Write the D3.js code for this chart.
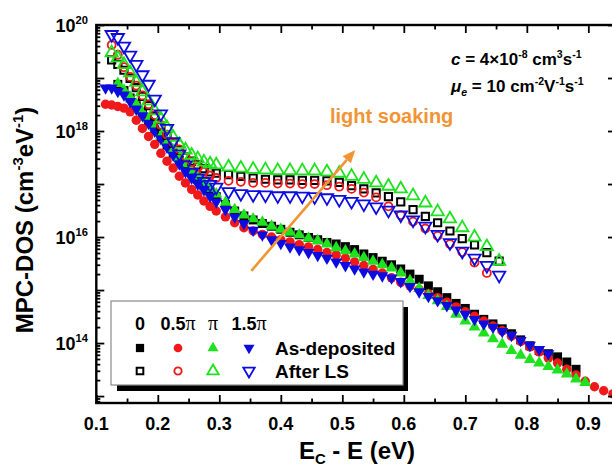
<!DOCTYPE html>
<html>
<head>
<meta charset="utf-8">
<script src="https://d3js.org/d3.v7.min.js"></script>
<style>
html,body{margin:0;padding:0;background:#fff;}
svg{display:block;font-family:Arial,"Liberation Sans",Helvetica,sans-serif;font-weight:bold;}
</style>
</head>
<body>
<svg id="chart" width="612" height="470"></svg>
<script>
// ---------------- data (E_C - E in eV, MPC-DOS in cm^-3 eV^-1) ----------------
const energyAsDep = [0.115,0.125,0.135,0.145,0.155,0.165,0.175,0.185,0.195,0.205,0.215,0.225,0.235,0.245,0.255,0.265,0.275,0.285,0.295,
  0.31,0.325,0.34,0.355,0.37,0.385,0.40,0.415,0.43,0.445,0.46,0.475,0.49,0.505,0.52,0.535,0.55,0.565,0.58,0.595,0.61,0.625,0.64,0.655,0.67,0.685,
  0.70,0.715,0.73,0.745,0.76,0.775,0.79,0.805,0.82,0.835,0.85,0.865,0.88,0.895,0.91,0.925,0.94];
const energyAfterLS = [0.125,0.135,0.145,0.155,0.165,0.175,0.185,0.195,0.205,0.215,0.225,0.235,0.245,0.255,0.265,0.275,0.285,0.295,
  0.315,0.335,0.355,0.375,0.395,0.415,0.435,0.455,0.475,0.495,0.515,0.535,0.555,0.575,0.595,0.615,0.635,0.655,0.675,0.695,0.715,0.735,0.755];

// As-deposited, phase 0 (filled black squares)
const dosAsDep0 = [null,null,7.6e18,5.8e18,4.2e18,3.0e18,2.1e18,1.5e18,1.05e18,7.6e17,5.4e17,3.8e17,2.8e17,2.1e17,1.6e17,1.2e17,9.3e16,7.2e16,5.8e16,
  4.1e16,3.1e16,2.5e16,2.1e16,1.8e16,1.6e16,1.4e16,1.23e16,1.1e16,9.8e15,8.9e15,7.9e15,7.4e15,6.6e15,5.8e15,4.8e15,4.1e15,3.5e15,3.0e15,2.5e15,
  2.0e15,1.6e15,1.2e15,9.3e14,7.2e14,5.6e14,4.5e14,3.5e14,2.8e14,2.3e14,1.86e14,1.5e14,1.15e14,8.9e13,7.2e13,6.3e13,5.5e13,4.4e13,3.2e13,null,null,null,null];
// As-deposited, phase 0.5π (filled red circles)
const dosAsDep05 = [3.2e18,3.1e18,2.9e18,2.7e18,2.3e18,1.6e18,1.12e18,7.9e17,5.6e17,3.8e17,2.7e17,2.0e17,1.4e17,1.05e17,7.9e16,6.2e16,4.8e16,3.8e16,3.1e16,
  2.4e16,1.86e16,1.5e16,1.3e16,1.12e16,1.0e16,8.9e15,8.1e15,7.2e15,6.5e15,5.8e15,5.1e15,4.6e15,4.0e15,3.4e15,2.9e15,2.45e15,2.1e15,1.7e15,1.4e15,
  1.2e15,1.02e15,8.5e14,7.2e14,5.9e14,4.8e14,3.9e14,3.2e14,2.6e14,2.1e14,1.7e14,1.35e14,1.07e14,8.5e13,6.8e13,5.2e13,4.2e13,3.2e13,2.5e13,1.9e13,1.5e13,1.26e13,1.1e13];
// As-deposited, phase π (filled green up-triangles)
const dosAsDep1 = [null,null,7.9e18,5.9e18,4.4e18,3.2e18,2.3e18,1.66e18,1.17e18,8.1e17,6.0e17,4.4e17,3.2e17,2.4e17,1.8e17,1.4e17,1.07e17,8.3e16,6.5e16,
  4.5e16,3.3e16,2.6e16,2.2e16,1.9e16,1.6e16,1.4e16,1.23e16,1.1e16,9.5e15,8.5e15,7.4e15,6.3e15,5.5e15,4.8e15,4.1e15,3.5e15,3.0e15,2.6e15,2.1e15,
  1.5e15,1.07e15,7.9e14,6.3e14,4.9e14,3.5e14,2.6e14,2.0e14,1.55e14,1.2e14,9.5e13,7.2e13,5.9e13,4.9e13,4.2e13,3.6e13,3.1e13,2.6e13,2.1e13,1.8e13,null,null,null];
// As-deposited, phase 1.5π (filled blue down-triangles)
const dosAsDep15 = [6.5e18,6.5e18,5.6e18,4.8e18,3.6e18,2.6e18,1.95e18,1.4e18,1.0e18,7.2e17,5.0e17,3.5e17,2.4e17,1.7e17,1.3e17,1.0e17,7.8e16,5.9e16,4.6e16,
  3.3e16,2.4e16,1.8e16,1.35e16,1.1e16,8.9e15,7.6e15,6.5e15,5.8e15,5.1e15,4.5e15,4.0e15,3.4e15,2.9e15,2.5e15,2.2e15,2.0e15,1.86e15,1.7e15,1.45e15,
  1.17e15,9.3e14,7.6e14,6.3e14,5.1e14,4.2e14,3.5e14,2.8e14,2.3e14,2.0e14,1.66e14,1.4e14,1.12e14,9.1e13,7.6e13,6.3e13,null,null,null,null,null,null,null];

// After light soaking, phase 0 (open black squares)
const dosAfterLS0 = [2.2e19,1.8e19,1.4e19,9.8e18,6.6e18,4.5e18,3.0e18,1.9e18,1.23e18,8.3e17,5.9e17,4.3e17,3.2e17,2.7e17,2.3e17,1.95e17,1.7e17,1.6e17,
  1.5e17,1.4e17,1.3e17,1.23e17,1.2e17,1.2e17,1.17e17,1.17e17,1.15e17,1.07e17,9.3e16,8.1e16,6.8e16,5.8e16,4.6e16,3.3e16,2.45e16,1.86e16,1.3e16,9.3e15,7.1e15,5.1e15,3.5e15];
// After light soaking, phase 0.5π (open red circles)
const dosAfterLS05 = [4.2e19,2.75e19,1.6e19,1.05e19,7.2e18,4.7e18,3.2e18,2.0e18,1.3e18,8.5e17,6.0e17,4.5e17,3.3e17,2.6e17,2.1e17,1.7e17,1.45e17,1.3e17,
  1.15e17,1.1e17,1.05e17,1.05e17,1.02e17,1.02e17,1.0e17,1.0e17,9.5e16,8.9e16,8.1e16,6.9e16,5.6e16,3.8e16,2.6e16,1.95e16,1.45e16,1.05e16,7.4e15,5.2e15,3.3e15,2.1e15,null];
// After light soaking, phase π (open green up-triangles)
const dosAfterLS1 = [3.0e19,2.4e19,1.8e19,1.26e19,8.3e18,5.5e18,3.7e18,2.4e18,1.7e18,1.15e18,7.6e17,5.6e17,4.4e17,3.5e17,3.0e17,2.6e17,2.4e17,2.3e17,
  2.1e17,2.0e17,1.9e17,1.86e17,1.8e17,1.8e17,1.78e17,1.78e17,1.7e17,1.6e17,1.4e17,1.23e17,1.05e17,9.1e16,8.1e16,6.0e16,4.4e16,3.0e16,2.2e16,1.5e16,1.0e16,6.6e15,3.5e15];
// After light soaking, phase 1.5π (open blue down-triangles)
const dosAfterLS15 = [6.6e19,5.8e19,4.0e19,2.7e19,1.8e19,1.15e19,7.6e18,4.0e18,2.1e18,1.12e18,6.3e17,3.7e17,2.3e17,1.66e17,1.3e17,1.12e17,9.8e16,8.7e16,
  7.2e16,6.6e16,6.3e16,6.2e16,6.0e16,6.0e16,5.9e16,5.75e16,5.5e16,5.1e16,4.7e16,4.2e16,3.7e16,3.2e16,2.6e16,2.1e16,1.6e16,1.12e16,7.8e15,5.4e15,4.0e15,2.9e15,1.9e15];

const xTickValues = [0.1,0.2,0.3,0.4,0.5,0.6,0.7,0.8,0.9];
const xTickLabels = ["0.1","0.2","0.3","0.4","0.5","0.6","0.7","0.8","0.9"];
const yLabelValues = [1e14,1e16,1e18,1e20];
const yLabelExponents = ["14","16","18","20"];
const phaseLabels = ["0","0.5","","1.5"];
const rowLabels = ["As-deposited","After LS"];

// ---------------- chart ----------------
const svg = d3.select('#chart');
const L = 96.3, R = 616, T = 25, B = 403;
const x = d3.scaleLinear().domain([0.1, 0.945]).range([L, R]);
const y = d3.scaleLog().domain([7.4e12, 1e20]).range([B, T]);

const C = {black:'#000000', red:'#f01818', green:'#1ee21e', blue:'#0c0ce0', orange:'#f09434'};

const series = [
  {e: energyAsDep, v: dosAsDep0,  shape:'square', color:C.black, filled:true},
  {e: energyAsDep, v: dosAsDep05, shape:'circle', color:C.red,   filled:true},
  {e: energyAsDep, v: dosAsDep1,  shape:'up',     color:C.green, filled:true},
  {e: energyAsDep, v: dosAsDep15, shape:'down',   color:C.blue,  filled:true},
  {e: energyAfterLS, v: dosAfterLS0,  shape:'square', color:C.black, filled:false},
  {e: energyAfterLS, v: dosAfterLS05, shape:'circle', color:C.red,   filled:false},
  {e: energyAfterLS, v: dosAfterLS1,  shape:'up',     color:C.green, filled:false},
  {e: energyAfterLS, v: dosAfterLS15, shape:'down',   color:C.blue,  filled:false}
];

function symbolPath(shape, filled, scale){
  const k = scale || 1;
  if (shape==='square') return d3.symbol(d3.symbolSquare, (filled ? 80 : 52) * k)();
  if (shape==='circle') return d3.symbol(d3.symbolCircle, (filled ? 70 : 50) * k)();
  return d3.symbol(d3.symbolTriangle, (filled ? 62 : 66) * k)();
}
function drawMarker(g, shape, color, filled, cx, cy, scale){
  const p = g.append('path')
    .attr('d', symbolPath(shape, filled, scale))
    .attr('transform', `translate(${cx},${cy})` + (shape==='down' ? ' rotate(180)' : ''));
  if (filled) p.attr('fill', color).attr('stroke', 'none');
  else p.attr('fill', 'none').attr('stroke', color).attr('stroke-width', shape==='square' ? 2 : 1.8);
  return p;
}

// plot markers
const plotG = svg.append('g');
series.forEach(s => {
  const g = plotG.append('g');
  s.e.forEach((e, i) => {
    const v = s.v[i];
    if (v == null) return;
    drawMarker(g, s.shape, s.color, s.filled, x(e), y(v));
  });
});

// axes (inward ticks)
const minorX = d3.range(0.15, 0.95, 0.1).map(d => +d.toFixed(2));
const decades = d3.range(13, 21).map(k => Math.pow(10, k));
const minorY = [];
for (let k = 12; k < 20; k++) for (let m = 2; m <= 9; m++) { const v = m * Math.pow(10, k); if (v > 7.4e12 && v < 1e20) minorY.push(v); }

function styleAxis(g){
  g.select('.domain').remove();
  g.selectAll('line').attr('stroke', '#000').attr('stroke-width', 1.8);
  g.selectAll('text').remove();
}
svg.append('g').attr('transform', `translate(0,${B})`).call(d3.axisBottom(x).tickValues(xTickValues).tickSize(-8)).call(styleAxis);
svg.append('g').attr('transform', `translate(0,${B})`).call(d3.axisBottom(x).tickValues(minorX).tickSize(-4.5)).call(styleAxis);
svg.append('g').attr('transform', `translate(0,${T})`).call(d3.axisTop(x).tickValues(xTickValues).tickSize(-8)).call(styleAxis);
svg.append('g').attr('transform', `translate(0,${T})`).call(d3.axisTop(x).tickValues(minorX).tickSize(-4.5)).call(styleAxis);
svg.append('g').attr('transform', `translate(${L},0)`).call(d3.axisLeft(y).tickValues(decades).tickSize(-8)).call(styleAxis);
svg.append('g').attr('transform', `translate(${L},0)`).call(d3.axisLeft(y).tickValues(minorY).tickSize(-4)).call(styleAxis);
svg.append('g').attr('transform', `translate(${R},0)`).call(d3.axisRight(y).tickValues(decades).tickSize(-8)).call(styleAxis);
svg.append('g').attr('transform', `translate(${R},0)`).call(d3.axisRight(y).tickValues(minorY).tickSize(-4)).call(styleAxis);

// frame
svg.append('rect').attr('x', L).attr('y', T).attr('width', R - L).attr('height', B - T)
  .attr('fill', 'none').attr('stroke', '#000').attr('stroke-width', 2.4);

// rich text helper
function rich(sel, segs, size){
  let off = 0;
  segs.forEach(s => {
    const target = s.sup ? -0.42 * size : (s.sub ? 0.22 * size : 0);
    const ts = sel.append('tspan').attr('dy', target - off).text(s.t);
    if (s.sup || s.sub) ts.attr('font-size', size * 0.62);
    if (s.italic) ts.attr('font-style', 'italic');
    if (s.family) ts.attr('font-family', s.family).attr('font-weight', s.weight || 'normal').attr('font-size', s.fs || size);
    off = target;
  });
}

// x tick labels
xTickValues.forEach((v, i) => {
  svg.append('text').attr('x', x(v)).attr('y', 430).attr('text-anchor', 'middle')
    .attr('font-size', 18).text(xTickLabels[i]);
});
// y tick labels
yLabelValues.forEach((v, i) => {
  const t = svg.append('text').attr('x', 88).attr('y', y(v) + 7).attr('text-anchor', 'end').attr('font-size', 18);
  rich(t, [{t:'10'}, {t:yLabelExponents[i], sup:true}], 18);
});

// axis titles
const xt = svg.append('text').attr('x', 357).attr('y', 459).attr('text-anchor', 'middle').attr('font-size', 24);
rich(xt, [{t:'E'}, {t:'C', sub:true}, {t:' - E (eV)'}], 24);
const yt = svg.append('text').attr('transform', 'translate(33,220) rotate(-90)').attr('text-anchor', 'middle').attr('font-size', 24);
rich(yt, [{t:'MPC-DOS (cm'}, {t:'-3', sup:true}, {t:'eV'}, {t:'-1', sup:true}, {t:')'}], 24);

// parameter annotation
const a1 = svg.append('text').attr('x', 451).attr('y', 65).attr('font-size', 17);
rich(a1, [{t:'c', italic:true}, {t:' = 4\u00d710'}, {t:'-8', sup:true}, {t:' cm'}, {t:'3', sup:true}, {t:'s'}, {t:'-1', sup:true}], 17);
const a2 = svg.append('text').attr('x', 451).attr('y', 92).attr('font-size', 17);
rich(a2, [{t:'\u03bc', italic:true}, {t:'e', sub:true, italic:true}, {t:' = 10 cm'}, {t:'-2', sup:true}, {t:'V'}, {t:'-1', sup:true}, {t:'s'}, {t:'-1', sup:true}], 17);

// light soaking arrow + label
const arrowStart = {e:0.352, v:2.3e15};
const arrowEnd = {e:0.521, v:4.4e17};
const x0 = x(arrowStart.e), y0 = y(arrowStart.v), x1 = x(arrowEnd.e), y1 = y(arrowEnd.v);
const ang = Math.atan2(y1 - y0, x1 - x0);
const hl = 13, hw = 5.5;
const bx = x1 - hl * Math.cos(ang), by = y1 - hl * Math.sin(ang);
svg.append('line').attr('x1', x0).attr('y1', y0).attr('x2', bx).attr('y2', by)
  .attr('stroke', C.orange).attr('stroke-width', 2.6);
svg.append('path').attr('d', `M${x1},${y1}L${bx - hw*Math.sin(ang)},${by + hw*Math.cos(ang)}L${bx + hw*Math.sin(ang)},${by - hw*Math.cos(ang)}Z`)
  .attr('fill', C.orange);
svg.append('text').attr('x', 330).attr('y', 123).attr('font-size', 20).attr('fill', C.orange).text('light soaking');

// legend
const lg = svg.append('g');
lg.append('rect').attr('x', 117).attr('y', 307).attr('width', 291).attr('height', 84).attr('fill', '#000');
lg.append('rect').attr('x', 111).attr('y', 301).attr('width', 292).attr('height', 84).attr('fill', '#fff')
  .attr('stroke', '#8a8a8a').attr('stroke-width', 1.2);
const colX = [140, 178, 213, 249];
const legendShapes = ['square','circle','up','down'];
const legendColors = [C.black, C.red, C.green, C.blue];
phaseLabels.forEach((p, i) => {
  const t = lg.append('text').attr('x', colX[i]).attr('y', 330).attr('text-anchor', 'middle').attr('font-size', 18);
  const segs = [{t:p}];
  if (i > 0) segs.push({t:'\u03c0', family:'"Liberation Serif","Times New Roman",serif', weight:'normal', fs:20});
  rich(t, segs, 18);
});
[true, false].forEach((filled, r) => {
  const cy = r === 0 ? 348 : 371;
  legendShapes.forEach((s, i) => drawMarker(lg, s, legendColors[i], filled, colX[i], cy, 0.85));
  lg.append('text').attr('x', 275).attr('y', cy + 7).attr('font-size', 19).text(rowLabels[r]);
});
</script>
</body>
</html>
